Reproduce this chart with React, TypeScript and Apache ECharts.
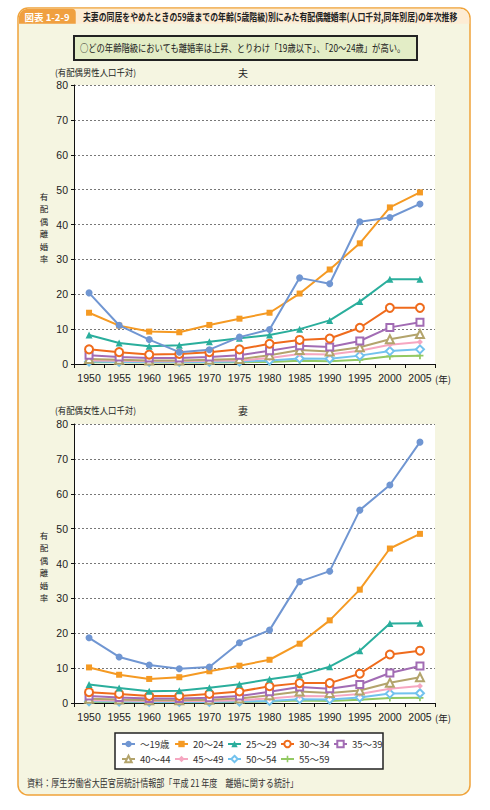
import React, { useEffect, useRef } from "react";
import * as echarts from "echarts";

const years = ["1950", "1955", "1960", "1965", "1970", "1975", "1980", "1985", "1990", "1995", "2000", "2005"];
const ageGroups = ["～19歳", "20～24", "25～29", "30～34", "35～39", "40～44", "45～49", "50～54", "55～59"];
const yTicks = { min: 0, max: 80, interval: 10 };

// 夫 (husband)
const h19 = [20.4, 11.1, 7.0, 3.4, 4.1, 7.7, 9.9, 24.7, 23.0, 40.8, 42.0, 45.9];
const h20 = [14.7, 11.0, 9.3, 9.1, 11.2, 13.0, 14.7, 20.2, 27.1, 34.6, 44.9, 49.2];
const h25 = [8.3, 6.0, 5.1, 5.4, 6.4, 7.4, 8.3, 10.0, 12.5, 17.9, 24.3, 24.3];
const h30 = [4.2, 3.4, 2.7, 2.9, 3.4, 4.2, 5.8, 6.9, 7.3, 10.4, 16.1, 16.1];
const h35 = [2.5, 2.0, 1.7, 1.7, 2.0, 2.5, 3.8, 5.2, 4.9, 6.6, 10.5, 12.0];
const h40 = [1.4, 1.2, 1.0, 1.0, 1.2, 1.4, 2.5, 4.0, 3.6, 4.8, 7.1, 8.6];
const h45 = [1.0, 0.9, 0.8, 0.8, 0.9, 1.0, 1.7, 2.9, 2.7, 3.8, 5.5, 6.3];
const h50 = [0.7, 0.6, 0.6, 0.6, 0.6, 0.7, 1.0, 1.6, 1.5, 2.4, 3.7, 4.2];
const h55 = [0.5, 0.5, 0.4, 0.4, 0.4, 0.5, 0.6, 0.9, 0.8, 1.2, 2.2, 2.4];

// 妻 (wife)
const w19 = [18.7, 13.2, 10.9, 9.8, 10.3, 17.3, 20.9, 34.8, 37.8, 55.3, 62.5, 74.8];
const w20 = [10.2, 8.1, 6.9, 7.4, 9.1, 10.7, 12.4, 17.0, 23.7, 32.5, 44.3, 48.5];
const w25 = [5.3, 4.3, 3.4, 3.5, 4.4, 5.4, 6.8, 8.0, 10.4, 15.0, 22.8, 22.9];
const w30 = [3.1, 2.6, 2.0, 2.0, 2.6, 3.3, 4.8, 5.7, 5.7, 8.4, 13.9, 15.0];
const w35 = [2.0, 1.6, 1.3, 1.3, 1.5, 2.0, 3.2, 4.6, 4.1, 5.3, 8.6, 10.6];
const w40 = [1.2, 1.0, 0.8, 0.8, 0.9, 1.3, 2.2, 3.3, 2.9, 3.6, 5.8, 7.4];
const w45 = [0.8, 0.7, 0.6, 0.6, 0.6, 0.8, 1.3, 2.0, 1.9, 2.6, 4.1, 4.9];
const w50 = [0.5, 0.4, 0.3, 0.3, 0.3, 0.4, 0.6, 1.1, 1.0, 1.6, 2.7, 2.8];
const w55 = [0.3, 0.3, 0.2, 0.2, 0.2, 0.3, 0.4, 0.7, 0.6, 0.9, 1.4, 1.5];

const husband = [h19, h20, h25, h30, h35, h40, h45, h50, h55];
const wife = [w19, w20, w25, w30, w35, w40, w45, w50, w55];

const colors = ["#7096d2", "#f59a23", "#2aae9c", "#ef6b1c", "#a26cb4", "#b3a46c", "#f6a7c1", "#72c2ee", "#93c963"];
const plus = "path://M3,0H5V3H8V5H5V8H3V5H0V3H3Z";
const symbols = ["circle", "rect", "triangle", "emptyCircle", "emptyRect", "emptyTriangle", "diamond", "emptyDiamond", plus];
const symbolSizes = [7, 6, 7, 8, 7, 8, 6, 8, 7];

const JP = '"Noto Sans CJK JP", "Noto Sans", sans-serif';
const NUM = '"Liberation Sans", Arial, sans-serif';

const GRID_TOPS = [85, 424];
const GRID_H = 279;

export default function App() {
  const ref = useRef<HTMLDivElement>(null);
  useEffect(() => {
    if (!ref.current) return;
    const chart = echarts.init(ref.current, undefined, { renderer: "svg" });

    const xAxis = [0, 1].map((i) => ({
      type: "category",
      gridIndex: i,
      data: years,
      boundaryGap: true,
      axisLine: { lineStyle: { color: "#111", width: 1 } },
      axisTick: { show: true, length: 4, lineStyle: { color: "#111" } },
      axisLabel: { color: "#222", fontSize: 10.5, margin: 8, fontFamily: NUM, interval: 0 },
    }));
    const yAxis = [0, 1].map((i) => ({
      type: "value",
      gridIndex: i,
      min: yTicks.min,
      max: yTicks.max,
      interval: yTicks.interval,
      axisLine: { show: true, lineStyle: { color: "#111", width: 1 } },
      axisTick: { show: true, length: 3, lineStyle: { color: "#111" } },
      axisLabel: { color: "#222", fontSize: 10.5, margin: 6, fontFamily: NUM },
      splitLine: { show: true, lineStyle: { color: "#555", width: 0.8, type: [2, 2] } },
    }));

    const series: any[] = [];
    [husband, wife].forEach((set, gi) => {
      set.forEach((data, k) => {
        const empty = String(symbols[k]).startsWith("empty");
        series.push({
          type: "line",
          name: ageGroups[k],
          xAxisIndex: gi,
          yAxisIndex: gi,
          data,
          symbol: symbols[k],
          symbolSize: symbolSizes[k],
          showAllSymbol: true,
          lineStyle: { color: colors[k], width: 2 },
          itemStyle: { color: colors[k], borderColor: colors[k], borderWidth: empty ? 2 : 0 },
          z: 10 - k,
        });
      });
    });

    const legendCommon = {
      itemWidth: 13,
      itemHeight: 8,
      itemGap: 0,
      padding: 0,
      orient: "horizontal",
      formatter: "{a|{name}}",
      textStyle: {
        color: "#333",
        fontSize: 9.5,
        lineHeight: 12,
        fontFamily: JP,
        rich: { a: { width: 34, fontSize: 9.5, lineHeight: 12, fontFamily: JP, color: "#333" } },
      },
      selectedMode: false,
    };

    const nameChars = ["有", "配", "偶", "離", "婚", "率"];
    const verticalTexts = (cy: number) =>
      nameChars.map((ch, i) => ({
        type: "text",
        z: 5,
        x: 44,
        y: cy + (i - 2.5) * 12.4,
        style: { text: ch, fill: "#222", fontSize: 8.5, fontFamily: JP, align: "center", verticalAlign: "middle" },
      }));

    chart.setOption({
      animation: false,
      textStyle: { fontFamily: JP },
      grid: GRID_TOPS.map((t) => ({
        left: 74,
        top: t,
        width: 361,
        height: GRID_H,
        show: true,
        backgroundColor: "#ffffff",
        borderWidth: 0,
      })),
      xAxis,
      yAxis,
      legend: [
        { ...legendCommon, left: 121, top: 738, data: ageGroups.slice(0, 5) },
        { ...legendCommon, left: 121, top: 753, data: ageGroups.slice(5) },
      ],
      series,
      graphic: [
        {
          type: "rect",
          z: -10,
          shape: { x: 18, y: 8, width: 452, height: 787, r: 10 },
          style: { fill: "#f5f5e1", stroke: "#f0a33a", lineWidth: 1.5 },
        },
        {
          type: "rect",
          z: -9,
          shape: { x: 18.75, y: 8.75, width: 450.5, height: 15, r: [9, 9, 0, 0] },
          style: { fill: "#fdecd4" },
        },
        {
          type: "rect",
          z: -8,
          shape: { x: 18.75, y: 8.75, width: 57, height: 15, r: [9, 4, 0, 0] },
          style: { fill: "#f0a040" },
        },
        {
          type: "text",
          z: 5,
          x: 47,
          y: 16.5,
          style: { text: "図表 1-2-9", fill: "#fff", fontSize: 9.5, fontWeight: "bold", fontFamily: JP, align: "center", verticalAlign: "middle" },
        },
        {
          type: "text",
          z: 5,
          x: 83,
          y: 16,
          scaleX: 0.75,
          style: {
            text: "夫妻の同居をやめたときの59歳までの年齢(5歳階級)別にみた有配偶離婚率(人口千対,同年別居)の年次推移",
            fill: "#222",
            fontSize: 10.5,
            fontWeight: "bold",
            fontFamily: JP,
            verticalAlign: "middle",
          },
        },
        {
          type: "rect",
          z: -5,
          shape: { x: 74, y: 36, width: 343, height: 24 },
          style: { fill: "#e3edc6", stroke: "#222", lineWidth: 2 },
        },
        {
          type: "text",
          z: 5,
          x: 80,
          y: 48,
          scaleX: 0.79,
          style: {
            text: "○どの年齢階級においても離婚率は上昇、とりわけ「19歳以下」、「20～24歳」が高い。",
            fill: "#222",
            fontSize: 10.5,
            fontFamily: JP,
            verticalAlign: "middle",
          },
        },
        {
          type: "text",
          z: 5,
          x: 55,
          y: 72,
          scaleX: 0.93,
          style: { text: "(有配偶男性人口千対)", fill: "#222", fontSize: 9, fontFamily: JP, verticalAlign: "middle" },
        },
        {
          type: "text",
          z: 5,
          x: 243,
          y: 72,
          style: { text: "夫", fill: "#222", fontSize: 10, fontFamily: JP, align: "center", verticalAlign: "middle" },
        },
        {
          type: "text",
          z: 5,
          x: 55,
          y: 410,
          scaleX: 0.93,
          style: { text: "(有配偶女性人口千対)", fill: "#222", fontSize: 9, fontFamily: JP, verticalAlign: "middle" },
        },
        {
          type: "text",
          z: 5,
          x: 243,
          y: 410,
          style: { text: "妻", fill: "#222", fontSize: 10, fontFamily: JP, align: "center", verticalAlign: "middle" },
        },
        ...verticalTexts(227),
        ...verticalTexts(566),
        {
          type: "text",
          z: 5,
          x: 435,
          y: 379,
          style: { text: "(年)", fill: "#222", fontSize: 9.5, fontFamily: JP, verticalAlign: "middle" },
        },
        {
          type: "text",
          z: 5,
          x: 435,
          y: 718,
          style: { text: "(年)", fill: "#222", fontSize: 9.5, fontFamily: JP, verticalAlign: "middle" },
        },
        {
          type: "rect",
          z: -5,
          shape: { x: 115, y: 733, width: 268, height: 36 },
          style: { fill: "#ffffff", stroke: "#222", lineWidth: 1.5 },
        },
        {
          type: "text",
          z: 5,
          x: 27,
          y: 783,
          scaleX: 0.81,
          style: {
            text: "資料：厚生労働省大臣官房統計情報部「平成 21 年度　離婚に関する統計」",
            fill: "#333",
            fontSize: 10,
            fontFamily: JP,
            verticalAlign: "middle",
          },
        },
      ],
    });
    return () => chart.dispose();
  }, []);

  return (
    <div
      ref={ref}
      style={{ position: "absolute", left: 0, top: 0, width: 490, height: 810, background: "#ffffff" }}
    />
  );
}
